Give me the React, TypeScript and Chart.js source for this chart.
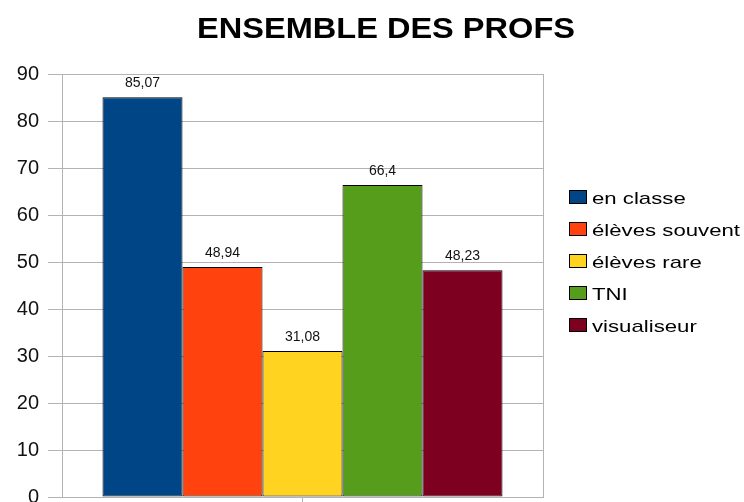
import React, { useEffect, useRef } from "react";
import { Chart, registerables } from "chart.js";

Chart.register(...registerables);

const chartTitle = "ENSEMBLE DES PROFS";
const categories = [""];
const seriesNames = ["en classe", "élèves souvent", "élèves rare", "TNI", "visualiseur"];
const seriesValues = [85.07, 48.94, 31.08, 66.4, 48.23];
const seriesColors = ["#004586", "#ff420e", "#ffd320", "#579d1c", "#7e0021"];
const yMin = 0;
const yMax = 90;
const yStep = 10;

const FONT = "'Liberation Sans', Arial, sans-serif";
const GRID = "#b3b3b3";

const fmt = (v: number) => String(v).replace(".", ",");

const decorPlugin = {
  id: "decor",
  afterDraw(chart: any) {
    const ctx = chart.ctx as CanvasRenderingContext2D;
    const area = chart.chartArea;
    ctx.save();
    // right border of plot area
    ctx.strokeStyle = GRID;
    ctx.lineWidth = 1;
    ctx.beginPath();
    ctx.moveTo(Math.round(area.right) + 0.5, area.top);
    ctx.lineTo(Math.round(area.right) + 0.5, area.bottom);
    ctx.stroke();

    // title
    ctx.fillStyle = "#000";
    ctx.font = `bold 29px ${FONT}`;
    const tw = ctx.measureText(chartTitle).width;
    const sx = 378 / tw;
    ctx.save();
    ctx.translate(386, 38);
    ctx.scale(sx, 1);
    ctx.textAlign = "center";
    ctx.textBaseline = "alphabetic";
    ctx.fillText(chartTitle, 0, 0);
    ctx.restore();

    // data labels
    ctx.font = `14px ${FONT}`;
    ctx.fillStyle = "#111";
    ctx.textAlign = "center";
    ctx.textBaseline = "alphabetic";
    chart.data.datasets.forEach((ds: any, i: number) => {
      const meta = chart.getDatasetMeta(i);
      meta.data.forEach((el: any, j: number) => {
        ctx.fillText(fmt(ds.data[j]), el.x, el.y - 10);
      });
    });

    // legend
    ctx.font = `17px ${FONT}`;
    const lw = ctx.measureText(seriesNames[1]).width;
    const lsx = 148 / lw;
    chart.data.datasets.forEach((ds: any, i: number) => {
      const y = 190 + i * 32;
      ctx.fillStyle = ds.backgroundColor;
      ctx.fillRect(569, y, 18, 14);
      ctx.strokeStyle = "#000";
      ctx.lineWidth = 1;
      ctx.strokeRect(569.5, y + 0.5, 17, 13);
      ctx.save();
      ctx.translate(592, y + 14);
      ctx.scale(lsx, 1);
      ctx.fillStyle = "#000";
      ctx.textAlign = "left";
      ctx.fillText(ds.label, 0, 0);
      ctx.restore();
    });
    ctx.restore();
  },
};

export default function App() {
  const ref = useRef<HTMLCanvasElement | null>(null);

  useEffect(() => {
    if (!ref.current) return;
    const chart = new Chart(ref.current, {
      type: "bar",
      data: {
        labels: categories,
        datasets: seriesNames.map((name, i) => ({
          label: name,
          data: [seriesValues[i]],
          backgroundColor: seriesColors[i],
          borderColor: "#000",
          borderWidth: 1,
          borderSkipped: false,
          barPercentage: 1,
          categoryPercentage: 400 / 481,
        })),
      },
      options: {
        animation: false,
        responsive: false,
        maintainAspectRatio: false,
        layout: { padding: { top: 74, right: 201, left: 0, bottom: 0 } },
        plugins: {
          legend: { display: false },
          title: { display: false },
          tooltip: { enabled: false },
        },
        scales: {
          x: {
            type: "category",
            offset: true,
            grid: {
              offset: false,
              drawOnChartArea: false,
              drawTicks: true,
              tickLength: 6,
              color: GRID,
            },
            border: { display: true, color: GRID },
            ticks: { display: false },
            afterFit: (s: any) => {
              s.height = 43;
            },
          },
          y: {
            min: yMin,
            max: yMax,
            ticks: {
              stepSize: yStep,
              padding: 9,
              color: "#111",
              font: { family: FONT, size: 20 },
            },
            grid: { color: GRID, tickLength: 14, lineWidth: 1 },
            border: { display: true, color: GRID },
            afterFit: (s: any) => {
              s.width = 62;
            },
          },
        },
      },
      plugins: [decorPlugin],
    });
    return () => chart.destroy();
  }, []);

  return (
    <div style={{ position: "absolute", left: 0, top: 0, width: 744, height: 540, background: "#fff" }}>
      <canvas ref={ref} width={744} height={540} style={{ display: "block" }} />
    </div>
  );
}
